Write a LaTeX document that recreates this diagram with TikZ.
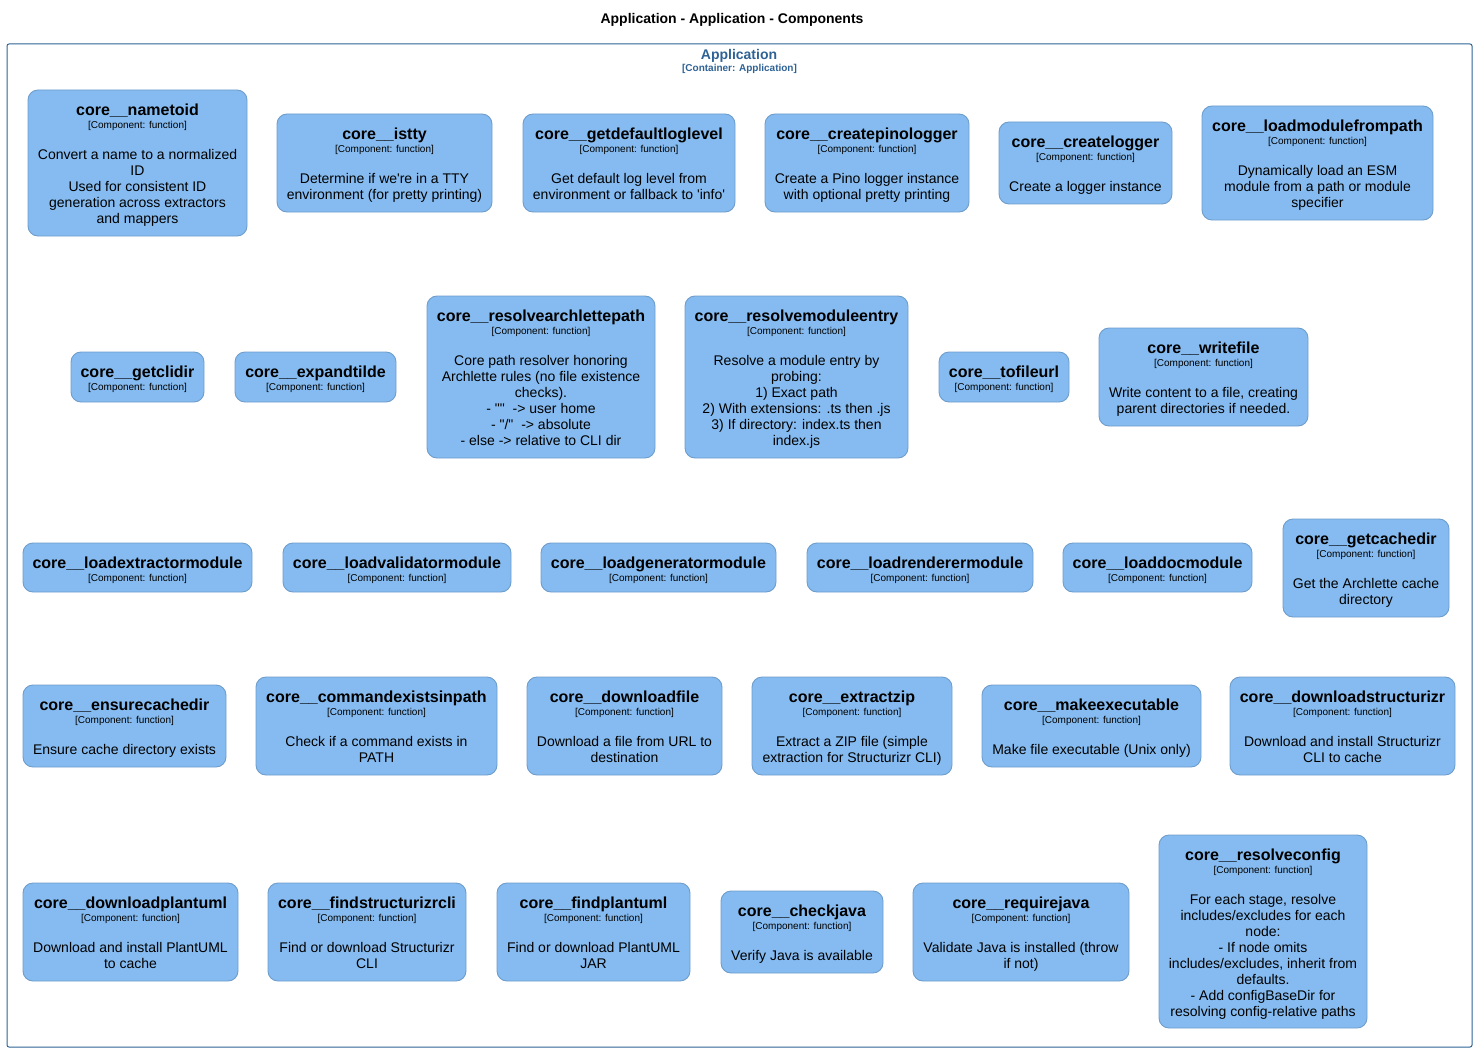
\documentclass[tikz,border=0pt]{standalone}
\usepackage{fontspec}
\newfontfamily\lsans{Liberation Sans}
\definecolor{compfill}{HTML}{85BBF0}
\definecolor{compline}{HTML}{6E9DCC}
\definecolor{contline}{HTML}{2E6295}
\tikzset{
  compbox/.style={draw=compline, fill=compfill, line width=0.9pt, rounded corners=10pt, inner sep=0pt},
  nametext/.style={anchor=base, inner sep=0pt, font=\lsans\bfseries\fontsize{16}{19}\selectfont},
  metatext/.style={anchor=base, inner sep=0pt, font=\lsans\fontsize{10}{12}\selectfont},
  desctext/.style={anchor=north, inner sep=0pt, align=center, font=\lsans\fontsize{14}{16}\selectfont},
  container/.style={draw=contline, line width=1pt, rounded corners=2pt},
  conttitle/.style={anchor=base, inner sep=0pt, text=contline, font=\lsans\bfseries\fontsize{14}{16}\selectfont},
  contmeta/.style={anchor=base, inner sep=0pt, text=contline, font=\lsans\bfseries\fontsize{10}{12}\selectfont},
  diagtitle/.style={anchor=base, inner sep=0pt, font=\lsans\bfseries\fontsize{14}{16}\selectfont},
}
\newcommand\comp[7]{%
  \node[compbox, minimum width={#4-#2}, minimum height={#5-#3}] (#1) at ({(#2+#4)/2},{(#3+#5)/2}) {};
  \node[nametext] (#1-name) at ({(#2+#4)/2},{#3+25.8}) {core\_\_#6};
  \node[metatext] (#1-meta) at ({(#2+#4)/2},{#3+38.4}) {[Component: function]};
  \if\relax\detokenize{#7}\relax\else
  \node[desctext] (#1-desc) at ({(#2+#4)/2},{#3+58}) {\strut #7};
  \fi}
\begin{document}
\begin{tikzpicture}[x=1pt,y=-1pt]
\useasboundingbox (0,0) rectangle (1477,1051);
\node[diagtitle] (title) at (732,23.8) {Application - Application - Components};
\draw[container] (7,44) rectangle (1472,1047);
\node[conttitle] (conttitle) at (739,59.3) {Application};
\node[contmeta] (contmeta) at (739.5,72) {[Container: Application]};
% row 1
\comp{nametoid}{28}{90}{247}{236}{nametoid}{Convert a name to a normalized\\ID\\Used for consistent ID\\generation across extractors\\and mappers}
\comp{istty}{277}{114}{492}{212}{istty}{Determine if we're in a TTY\\environment (for pretty printing)}
\comp{getdefaultloglevel}{523}{114}{735}{212}{getdefaultloglevel}{Get default log level from\\environment or fallback to 'info'}
\comp{createpinologger}{765}{114}{969}{212}{createpinologger}{Create a Pino logger instance\\with optional pretty printing}
\comp{createlogger}{999}{122}{1172}{204}{createlogger}{Create a logger instance}
\comp{loadmodulefrompath}{1202}{106}{1433}{220}{loadmodulefrompath}{Dynamically load an ESM\\module from a path or module\\specifier}
% row 2
\comp{getclidir}{71}{352}{204}{402}{getclidir}{}
\comp{expandtilde}{235}{352}{396}{402}{expandtilde}{}
\comp{resolvearchlettepath}{427}{296}{655}{458}{resolvearchlettepath}{Core path resolver honoring\\Archlette rules (no file existence\\checks).\\- ""~~-> user home\\- "/"~~-> absolute\\- else -> relative to CLI dir}
\comp{resolvemoduleentry}{685}{296}{908}{458}{resolvemoduleentry}{Resolve a module entry by\\probing:\\1) Exact path\\2) With extensions: .ts then .js\\3) If directory: index.ts then\\index.js}
\comp{tofileurl}{939}{352}{1069}{402}{tofileurl}{}
\comp{writefile}{1099}{328}{1308}{426}{writefile}{Write content to a file, creating\\parent directories if needed.}
% row 3
\comp{loadextractormodule}{23}{543}{252}{592}{loadextractormodule}{}
\comp{loadvalidatormodule}{283}{543}{511}{592}{loadvalidatormodule}{}
\comp{loadgeneratormodule}{541}{543}{776}{592}{loadgeneratormodule}{}
\comp{loadrenderermodule}{807}{543}{1033}{592}{loadrenderermodule}{}
\comp{loaddocmodule}{1063}{543}{1252}{592}{loaddocmodule}{}
\comp{getcachedir}{1283}{519}{1449}{617}{getcachedir}{Get the Archlette cache\\directory}
% row 4
\comp{ensurecachedir}{23}{685}{226}{767}{ensurecachedir}{Ensure cache directory exists}
\comp{commandexistsinpath}{256}{677}{497}{775}{commandexistsinpath}{Check if a command exists in\\PATH}
\comp{downloadfile}{527}{677}{722}{775}{downloadfile}{Download a file from URL to\\destination}
\comp{extractzip}{752}{677}{952}{775}{extractzip}{Extract a ZIP file (simple\\extraction for Structurizr CLI)}
\comp{makeexecutable}{982}{685}{1201}{767}{makeexecutable}{Make file executable (Unix only)}
\comp{downloadstructurizr}{1230}{677}{1455}{775}{downloadstructurizr}{Download and install Structurizr\\CLI to cache}
% row 5
\comp{downloadplantuml}{23}{883}{238}{981}{downloadplantuml}{Download and install PlantUML\\to cache}
\comp{findstructurizrcli}{268}{883}{466}{981}{findstructurizrcli}{Find or download Structurizr\\CLI}
\comp{findplantuml}{497}{883}{690}{981}{findplantuml}{Find or download PlantUML\\JAR}
\comp{checkjava}{721}{891}{883}{973}{checkjava}{Verify Java is available}
\comp{requirejava}{913}{883}{1129}{981}{requirejava}{Validate Java is installed (throw\\if not)}
\comp{resolveconfig}{1159}{835}{1367}{1028}{resolveconfig}{For each stage, resolve\\includes/excludes for each\\node:\\- If node omits\\includes/excludes, inherit from\\defaults.\\- Add configBaseDir for\\resolving config-relative paths}
\end{tikzpicture}
\end{document}
